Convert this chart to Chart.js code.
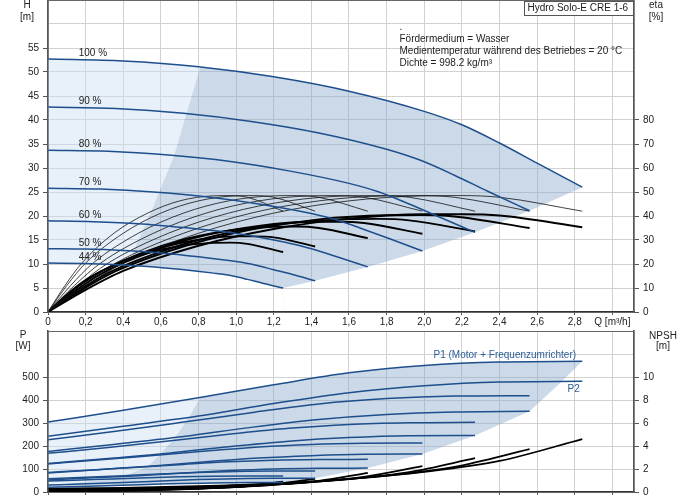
<!DOCTYPE html>
<html>
<head>
<meta charset="utf-8">
<script src="https://cdn.jsdelivr.net/npm/chart.js@4.4.0/dist/chart.umd.min.js"></script>
<style>
  body { margin: 0; background: #fff; width: 691px; height: 500px; overflow: hidden; position: relative; }
  .box { position: absolute; left: 0; width: 691px; }
</style>
</head>
<body>
<div class="box" style="top:0;height:330px"><canvas id="headChart"></canvas></div>
<div class="box" style="top:330px;height:170px"><canvas id="powerChart"></canvas></div>
<script>
// Hydro Solo-E CRE 1-6 pump curves

const speedLabels = ['100 %', '90 %', '80 %', '70 %', '60 %', '50 %', '44 %'];

// Q [m³/h] for the head and efficiency curves, one row per speed
const headQ = [
  [0, 0.4, 0.8, 1.2, 1.6, 2.0, 2.2, 2.4, 2.6, 2.84],
  [0, 0.36, 0.72, 1.08, 1.44, 1.8, 1.98, 2.16, 2.34, 2.56],
  [0, 0.32, 0.64, 0.96, 1.28, 1.6, 1.76, 1.92, 2.08, 2.27],
  [0, 0.28, 0.56, 0.84, 1.12, 1.4, 1.54, 1.68, 1.82, 1.99],
  [0, 0.24, 0.48, 0.72, 0.96, 1.2, 1.32, 1.44, 1.56, 1.70],
  [0, 0.2, 0.4, 0.6, 0.8, 1.0, 1.1, 1.2, 1.3, 1.42],
  [0, 0.18, 0.35, 0.53, 0.70, 0.88, 0.97, 1.06, 1.14, 1.25]
];
// H [m]
const headH = [
  [52.7, 52.3, 51.1, 49.0, 46.0, 41.8, 39.0, 35.2, 31.0, 26.0],
  [42.7, 42.4, 41.4, 39.7, 37.3, 33.9, 31.6, 28.5, 25.1, 21.1],
  [33.7, 33.5, 32.7, 31.4, 29.4, 26.8, 25.0, 22.5, 19.8, 16.6],
  [25.8, 25.6, 25.0, 24.0, 22.5, 20.5, 19.1, 17.2, 15.2, 12.7],
  [19.0, 18.8, 18.4, 17.6, 16.6, 15.0, 14.0, 12.7, 11.2, 9.4],
  [13.2, 13.1, 12.8, 12.3, 11.5, 10.5, 9.8, 8.8, 7.8, 6.5],
  [10.2, 10.1, 9.9, 9.5, 8.9, 8.1, 7.6, 6.8, 6.0, 5.0]
];

const etaQ = [
  [0, 0.2, 0.4, 0.8, 1.2, 1.6, 2.0, 2.2, 2.4, 2.84],
  [0, 0.18, 0.36, 0.72, 1.08, 1.44, 1.8, 1.98, 2.16, 2.56],
  [0, 0.16, 0.32, 0.64, 0.96, 1.28, 1.6, 1.76, 1.92, 2.27],
  [0, 0.14, 0.28, 0.56, 0.84, 1.12, 1.4, 1.54, 1.68, 1.99],
  [0, 0.12, 0.24, 0.48, 0.72, 0.96, 1.2, 1.32, 1.44, 1.70],
  [0, 0.1, 0.2, 0.4, 0.6, 0.8, 1.0, 1.1, 1.2, 1.42],
  [0, 0.09, 0.18, 0.35, 0.53, 0.70, 0.88, 0.97, 1.06, 1.25]
];
// pump efficiency [%], same course at every speed
const etaPump = [0, 11, 20.4, 32.8, 41.2, 46.3, 48.4, 48.5, 47.8, 42.0];
// total efficiency (pump + motor + converter) [%]
const etaTotal = [
  [0, 9.2, 17.1, 27.6, 34.6, 38.9, 40.7, 40.7, 40.2, 35.3],
  [0, 9.2, 17.0, 27.3, 34.3, 38.6, 40.3, 40.4, 39.8, 35.0],
  [0, 8.8, 16.3, 26.2, 33.0, 37.0, 38.7, 38.8, 38.2, 33.6],
  [0, 8.5, 15.8, 25.5, 32.0, 35.9, 37.6, 37.6, 37.1, 32.6],
  [0, 8.1, 15.0, 24.0, 30.2, 33.9, 35.5, 35.6, 35.0, 30.8],
  [0, 7.2, 13.3, 21.3, 26.8, 30.1, 31.5, 31.5, 31.1, 27.3],
  [0, 6.5, 12.1, 19.5, 24.5, 27.5, 28.8, 28.9, 28.4, 25.0]
];

// Q [m³/h] for the power and NPSH curves
const powerQ = [
  [0, 0.4, 0.8, 1.2, 1.6, 2.0, 2.4, 2.84],
  [0, 0.36, 0.72, 1.08, 1.44, 1.8, 2.16, 2.56],
  [0, 0.32, 0.64, 0.96, 1.28, 1.6, 1.92, 2.27],
  [0, 0.28, 0.56, 0.84, 1.12, 1.4, 1.68, 1.99],
  [0, 0.24, 0.48, 0.72, 0.96, 1.2, 1.44, 1.70],
  [0, 0.2, 0.4, 0.6, 0.8, 1.0, 1.2, 1.42],
  [0, 0.18, 0.35, 0.53, 0.70, 0.88, 1.06, 1.25]
];
// P1 [W]
const powerP1 = [
  [304, 355, 410, 466, 518, 550, 565, 568],
  [227, 264, 304, 345, 383, 406, 417, 419],
  [168, 194, 222, 251, 277, 294, 301, 303],
  [122, 140, 159, 178, 196, 207, 212, 213],
  [85, 96, 108, 120, 131, 138, 141, 142],
  [58, 64, 71, 78, 85, 89, 91, 91],
  [48, 52, 57, 62, 66, 69, 70, 70]
];
// P2 [W]
const powerP2 = [
  [242, 286, 330, 385, 432, 462, 478, 481],
  [176, 208, 241, 281, 315, 337, 348, 351],
  [124, 146, 169, 197, 221, 237, 245, 246],
  [83, 98, 113, 132, 148, 158, 164, 165],
  [52, 62, 71, 83, 93, 100, 103, 104],
  [30, 36, 41, 48, 54, 58, 60, 60],
  [21, 24, 28, 33, 37, 39, 41, 41]
];
// NPSH [m]
const npsh = [
  [0.30, 0.35, 0.50, 0.75, 1.15, 1.75, 2.70, 4.60],
  [0.24, 0.28, 0.41, 0.61, 0.93, 1.42, 2.19, 3.73],
  [0.19, 0.22, 0.32, 0.48, 0.74, 1.12, 1.73, 2.94],
  [0.15, 0.17, 0.25, 0.37, 0.56, 0.86, 1.32, 2.25],
  [0.11, 0.13, 0.18, 0.27, 0.41, 0.63, 0.97, 1.66],
  [0.08, 0.09, 0.13, 0.19, 0.29, 0.44, 0.68, 1.15],
  [0.06, 0.07, 0.10, 0.15, 0.22, 0.34, 0.52, 0.89]
];

// operating range borders
const headEndQ = [1.25, 1.42, 1.70, 1.99, 2.27, 2.56, 2.84];
const headEndH = [5.0, 6.5, 9.4, 12.7, 16.6, 21.1, 26.0];
const headMinQ = [0.84, 0.81, 0.67, 0.56, 0.45, 0.40];
const headMinH = [55.5, 51.1, 32.5, 22.0, 12.3, 7.9];
const powerEndQ = [1.25, 1.42, 1.70, 1.99, 2.27, 2.56, 2.71, 2.84];
const powerEndP = [41, 60, 104, 165, 246, 351, 464, 568];
const powerMinQ = [0.84, 0.81, 0.74, 0.665, 0.58, 0.53, 0.41, 0.27, 0.10];
const powerMinP = [450, 410, 312, 225, 152, 109, 72, 50, 35];

const infoLines = ['.', 'Fördermedium = Wasser', 'Medientemperatur während des Betriebes = 20 °C', 'Dichte = 998.2 kg/m³'];

Chart.defaults.font.family = "'Liberation Sans', Arial, sans-serif";
Chart.defaults.font.size = 10;
Chart.defaults.color = '#222';
Chart.defaults.animation = false;

const BLUE = '#1e4f8c';
const FONT = "10px 'Liberation Sans', Arial, sans-serif";

function curve(qs, vals) {
  return qs.map((q, i) => ({ x: q, y: vals[i] }));
}

function lineSet(data, axis, color, width) {
  return {
    data, yAxisID: axis, borderColor: color, borderWidth: width,
    pointRadius: 0, fill: false, cubicInterpolationMode: 'monotone'
  };
}

function fmtQ(v) {
  if (Math.abs(v - 3) < 1e-6) return 'Q [m³/h]';
  if (v === 0) return '0';
  return v.toFixed(1).replace('.', ',');
}

function qAxis(showLabels, height) {
  return {
    type: 'linear', min: 0, max: 3.115,
    ticks: { stepSize: 0.2, includeBounds: false, display: showLabels, padding: 1, maxRotation: 0, autoSkip: false, callback: fmtQ },
    grid: { color: '#d2d2d2', tickLength: 3, tickColor: '#555' },
    border: { color: '#333', width: 1.5 },
    afterFit: s => { s.height = height; s.paddingLeft = 0; s.paddingRight = 0; }
  };
}

function valueAxis(position, max, step, lastLabel, width, onChart) {
  return {
    type: 'linear', position, min: 0, max,
    ticks: { stepSize: step, padding: 4, autoSkip: false, callback: v => (v <= lastLabel ? String(v) : '') },
    grid: {
      drawOnChartArea: onChart, color: '#d2d2d2', tickLength: 5,
      tickColor: c => (c.tick && c.tick.value <= lastLabel ? '#555' : 'rgba(0,0,0,0)')
    },
    border: { color: '#444', width: 1.5 },
    afterFit: s => { s.width = width; s.paddingTop = 0; s.paddingBottom = 0; }
  };
}

// shaded operating range: light left of min. flow, darker to the right
function envelopePlugin(cfg) {
  return {
    id: 'envelope',
    beforeDatasetsDraw(chart) {
      const { ctx, chartArea: a, scales } = chart;
      const px = q => scales.x.getPixelForValue(q);
      const py = v => scales[cfg.axis].getPixelForValue(v);
      const up = chart.getDatasetMeta(cfg.upper).dataset;
      const lo = chart.getDatasetMeta(cfg.lower).dataset;
      const upPts = up.points, loPts = lo.points;
      const L = a.left - 5, R = a.right + 5, T = a.top - 5, B = a.bottom + 5;

      ctx.save();
      ctx.beginPath();
      up.path(ctx);
      ctx.lineTo(upPts[upPts.length - 1].x, B);
      ctx.lineTo(L, B);
      ctx.lineTo(L, upPts[0].y);
      ctx.closePath();
      ctx.clip();

      ctx.beginPath();
      lo.path(ctx);
      ctx.lineTo(loPts[loPts.length - 1].x, B);
      ctx.lineTo(R, B);
      ctx.lineTo(R, T);
      ctx.lineTo(L, T);
      ctx.lineTo(L, loPts[0].y);
      ctx.closePath();
      ctx.clip();

      const n = cfg.endQ.length;
      ctx.beginPath();
      ctx.moveTo(L, B);
      ctx.lineTo(px(cfg.endQ[0]), B);
      cfg.endQ.forEach((q, i) => ctx.lineTo(px(q), py(cfg.endV[i])));
      ctx.lineTo(px(cfg.endQ[n - 1]), T);
      ctx.lineTo(L, T);
      ctx.closePath();
      ctx.clip();

      const m = cfg.minQ.length;
      const side = (edge, color) => {
        ctx.save();
        ctx.beginPath();
        cfg.minQ.forEach((q, i) => ctx.lineTo(px(q), py(cfg.minV[i])));
        ctx.lineTo(px(cfg.minQ[m - 1]), B);
        ctx.lineTo(edge, B);
        ctx.lineTo(edge, T);
        ctx.lineTo(px(cfg.minQ[0]), T);
        ctx.closePath();
        ctx.clip();
        ctx.fillStyle = color;
        ctx.fillRect(a.left, a.top, a.right - a.left, a.bottom - a.top);
        ctx.restore();
      };
      side(L, 'rgba(205,222,242,0.45)');
      side(R, 'rgba(130,165,200,0.42)');
      ctx.restore();
    }
  };
}

function frame(ctx, a) {
  ctx.strokeStyle = '#666';
  ctx.lineWidth = 1;
  ctx.strokeRect(a.left, a.top + 0.5, a.right - a.left, a.bottom - a.top);
}

const headText = {
  id: 'headText',
  afterDraw(chart) {
    const { ctx, chartArea, scales: { x, y } } = chart;
    ctx.save();
    frame(ctx, chartArea);
    ctx.font = FONT;
    ctx.fillStyle = '#222';
    ctx.textBaseline = 'middle';
    ctx.textAlign = 'left';
    speedLabels.forEach((t, i) => {
      ctx.fillText(t, x.getPixelForValue(0.163), y.getPixelForValue(headH[i][0]) - 5.5);
    });
    infoLines.forEach((t, i) => ctx.fillText(t, 399.5, 27 + i * 12));
    // type box
    ctx.fillStyle = '#fff';
    ctx.fillRect(524.5, 1.5, 109, 14);
    ctx.strokeStyle = '#555';
    ctx.strokeRect(524.5, 1.5, 109, 14);
    ctx.fillStyle = '#222';
    ctx.fillText('Hydro Solo-E CRE 1-6', 527.5, 8.5);
    ctx.textAlign = 'center';
    ctx.fillText('H', 27, 5.5);
    ctx.fillText('[m]', 27, 17);
    ctx.fillText('eta', 656, 5.5);
    ctx.fillText('[%]', 656, 17);
    ctx.restore();
  }
};

const powerText = {
  id: 'powerText',
  afterDraw(chart) {
    const { ctx, chartArea } = chart;
    ctx.save();
    frame(ctx, chartArea);
    ctx.font = FONT;
    ctx.textBaseline = 'middle';
    ctx.textAlign = 'center';
    ctx.fillStyle = '#222';
    ctx.fillText('P', 23, 5);
    ctx.fillText('[W]', 23, 16.5);
    ctx.fillText('NPSH', 663, 6);
    ctx.fillText('[m]', 663, 16.5);
    ctx.textAlign = 'left';
    ctx.fillStyle = '#2b5d97';
    ctx.fillText('P1 (Motor + Frequenzumrichter)', 433.5, 25.7);
    ctx.fillText('P2', 567.5, 59);
    ctx.restore();
  }
};

const headSets = [
  ...headQ.map((q, i) => lineSet(curve(q, headH[i]), 'y', BLUE, 1.5)),
  ...etaQ.map(q => lineSet(curve(q, etaPump), 'y1', '#111', 0.8)),
  ...etaQ.map((q, i) => lineSet(curve(q, etaTotal[i]), 'y1', '#000', 1.9))
];

new Chart(document.getElementById('headChart'), {
  type: 'line',
  data: { datasets: headSets },
  options: {
    responsive: true,
    maintainAspectRatio: false,
    events: [],
    layout: { padding: 0 },
    plugins: { legend: { display: false }, tooltip: { enabled: false } },
    scales: {
      x: qAxis(true, 18),
      y: valueAxis('left', 65, 5, 55, 48, true),
      y1: valueAxis('right', 130, 10, 80, 57, false)
    }
  },
  plugins: [envelopePlugin({ axis: 'y', upper: 0, lower: 6, endQ: headEndQ, endV: headEndH, minQ: headMinQ, minV: headMinH }), headText]
});

const powerSets = [
  ...powerQ.map((q, i) => lineSet(curve(q, powerP1[i]), 'y', BLUE, 1.5)),
  ...powerQ.map((q, i) => lineSet(curve(q, powerP2[i]), 'y', BLUE, 1.5)),
  ...powerQ.map((q, i) => lineSet(curve(q, npsh[i]), 'y1', '#000', 1.8))
];

new Chart(document.getElementById('powerChart'), {
  type: 'line',
  data: { datasets: powerSets },
  options: {
    responsive: true,
    maintainAspectRatio: false,
    events: [],
    layout: { padding: { top: 1 } },
    plugins: { legend: { display: false }, tooltip: { enabled: false } },
    scales: {
      x: qAxis(false, 8),
      y: valueAxis('left', 700, 100, 500, 48, true),
      y1: valueAxis('right', 14, 2, 10, 57, false)
    }
  },
  plugins: [envelopePlugin({ axis: 'y', upper: 0, lower: 13, endQ: powerEndQ, endV: powerEndP, minQ: powerMinQ, minV: powerMinP }), powerText]
});
</script>
</body>
</html>
